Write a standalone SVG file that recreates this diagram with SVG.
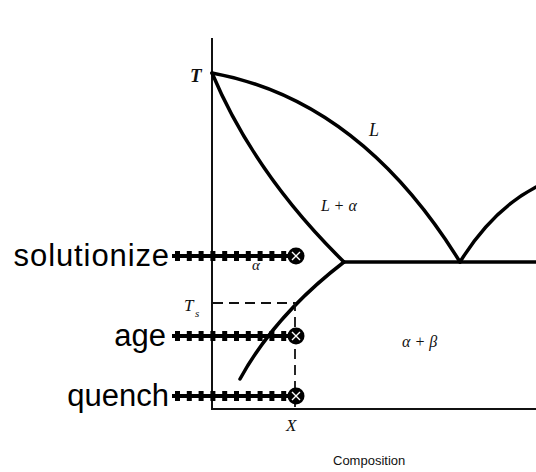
<svg xmlns="http://www.w3.org/2000/svg" width="536" height="472" viewBox="0 0 536 472">
<style>
.ax{stroke:#111;stroke-width:2;fill:none}
.cv{stroke:#000;stroke-width:3.5;fill:none;stroke-linecap:round}
.dsh{stroke:#111;stroke-width:1.8;fill:none;stroke-dasharray:10 6}
.it{font-family:"Liberation Serif",serif;font-style:italic;fill:#111}
.lb{font-family:"Liberation Sans",Arial,sans-serif;font-size:31px;fill:#000}
.core{stroke:#000;stroke-width:4}
.tick{stroke:#000;stroke-width:10;stroke-dasharray:5 6.8}
</style>
<rect width="536" height="472" fill="#fff"/>
<g id="diagram">
<line class="ax" x1="212" y1="38" x2="212" y2="409"/>
<line class="ax" x1="211" y1="409" x2="536" y2="409"/>
<path class="cv" d="M212,73 Q360,100 460,262"/>
<path class="cv" d="M212,73 Q255,175 344,262"/>
<path class="cv" d="M344,262 L536,262"/>
<path class="cv" d="M460,262 Q492,210 536,187"/>
<path class="cv" d="M344,262 Q275,315 240,379"/>
<path class="dsh" d="M213,303 H295 V409"/>
<text class="it" x="190" y="82" font-size="19" font-weight="bold">T</text>
<text class="it" x="369" y="136" font-size="18">L</text>
<text class="it" x="321" y="211" font-size="16">L + α</text>
<text class="it" x="252" y="270" font-size="15">α</text>
<text class="it" x="184" y="311" font-size="17">T</text>
<text class="it" x="195" y="317" font-size="11">s</text>
<text class="it" x="286" y="431" font-size="17">X</text>
<text class="it" x="402" y="347" font-size="16">α + β</text>
<text x="333" y="465" font-family="Liberation Sans,Arial,sans-serif" font-size="13" fill="#111">Composition</text>
</g>
<g id="solutionize">
<text class="lb" x="170" y="266" text-anchor="end" letter-spacing="0.9">solutionize</text>
<line class="core" x1="172" y1="256" x2="290" y2="256"/>
<line class="tick" x1="175" y1="256" x2="290" y2="256"/>
<circle cx="296" cy="256" r="8.5" fill="#000"/>
<path d="M292,252 L300,260 M300,252 L292,260" stroke="#fff" stroke-width="1.4"/>
</g>
<g id="age">
<text class="lb" x="166" y="346" text-anchor="end">age</text>
<line class="core" x1="172" y1="336" x2="290" y2="336"/>
<line class="tick" x1="175" y1="336" x2="290" y2="336"/>
<circle cx="296" cy="336" r="8.5" fill="#000"/>
<path d="M292,332 L300,340 M300,332 L292,340" stroke="#fff" stroke-width="1.4"/>
</g>
<g id="quench">
<text class="lb" x="169" y="406" text-anchor="end">quench</text>
<line class="core" x1="172" y1="396" x2="290" y2="396"/>
<line class="tick" x1="175" y1="396" x2="290" y2="396"/>
<circle cx="296" cy="396" r="8.5" fill="#000"/>
<path d="M292,392 L300,400 M300,392 L292,400" stroke="#fff" stroke-width="1.4"/>
</g>
</svg>
